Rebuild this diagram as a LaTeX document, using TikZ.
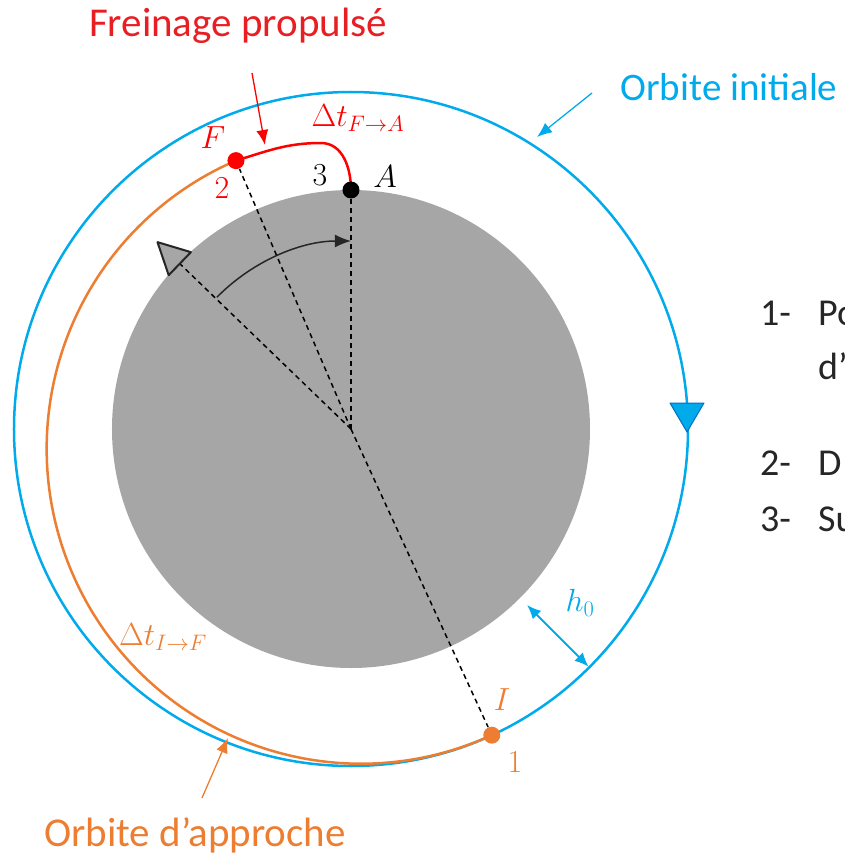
\RequirePackage{fix-cm}
\documentclass[tikz,border=0pt]{standalone}
\usepackage[no-math]{fontspec}
\setmainfont{Carlito}
\usetikzlibrary{arrows.meta,calc}
\definecolor{cblue}{RGB}{0,170,235}
\definecolor{cbluedark}{RGB}{0,112,192}
\definecolor{corange}{RGB}{237,125,49}
\definecolor{cred}{RGB}{255,0,0}
\definecolor{credtxt}{RGB}{232,30,35}
\definecolor{cgray}{RGB}{166,166,166}
\definecolor{cdark}{RGB}{38,38,38}
\begin{document}
\begin{tikzpicture}[x=1pt,y=1pt,
  lbl/.style={font=\fontsize{38}{44}\selectfont, inner sep=0pt},
  biglbl/.style={font=\fontsize{41}{48}\selectfont, inner sep=0pt},
  mlbl/.style={font=\fontsize{32}{38}\selectfont, inner sep=0pt},
  dashln/.style={draw=black, line width=1.5pt, dash pattern=on 5pt off 4pt},
  tip/.style={-{Latex[length=15pt,width=12pt]}},
  dot/.style={circle, inner sep=0pt, minimum size=17pt}]
\useasboundingbox (-351,-426) rectangle (494,429);
\clip (-351,-426) rectangle (494,429);

\coordinate (O) at (0,0);
\coordinate (I) at (-65.3:337);
\coordinate (F) at (113.2:292);
\coordinate (A) at (0,239);
\coordinate (T) at (136:238);

% planet
\fill[cgray] (O) circle (239);

% dashed radial lines
\draw[dashln] (O) -- (T);
\draw[dashln] (O) -- (A);
\draw[dashln, shorten >=9pt] (O) -- (F);
\draw[dashln, shorten >=9pt] (O) -- (I);

% rotation arc
\draw[cdark, line width=1.5pt, -{Latex[length=16pt,width=13pt]}] (135.5:188) arc[start angle=135.5, end angle=90, radius=188];

% target marker
\filldraw[fill=cgray, draw=cdark, line width=2pt, line join=round]
  (136:269) -- ($(T)+(46:16)$) -- ($(T)+(226:16)$) -- cycle;

% initial orbit
\draw[cblue, line width=2.5pt] (O) circle (337);
\filldraw[fill=cblue, draw=cbluedark, line width=1pt, line join=round] (319,26) -- (353,26) -- (336,-3) -- cycle;

% approach orbit
\draw[corange, line width=2.5pt] plot[domain=-65.3:-246.8, samples=140, smooth]
  ({312.9/(1+0.0715*cos(\x+245))*cos(\x)}, {312.9/(1+0.0715*cos(\x+245))*sin(\x)});

% braking arc
\draw[cred, line width=2.5pt] (F) to[out=17, in=180] (-30,286) to[out=0, in=90] (A);

% points
\node[dot, fill=cred] (Fd) at (F) {};
\node[dot, fill=black] (Ad) at (A) {};
\node[dot, fill=corange] (Id) at (I) {};

% h0
\coordinate (h1) at (-45:249);
\coordinate (h2) at (-45:336);
\draw[cblue, line width=2pt, {Latex[length=14pt,width=12pt]}-{Latex[length=14pt,width=12pt]}] (h1) -- (h2);
\node[mlbl, text=cblue] (h0) at (229,-174) {$h_0$};

% point labels
\node[mlbl, text=cred] (Fl) at (-138,291) {$F$};
\node[mlbl, text=cred] (n2) at (-129,241) {$2$};
\node[mlbl, text=black] (n3) at (-31,254) {$3$};
\node[mlbl, text=black] (Al) at (34,252) {$A$};
\node[mlbl, text=cred] (dtFA) at (7,311) {$\Delta t_{F\rightarrow A}$};
\node[mlbl, text=corange] (Il) at (151,-271) {$I$};
\node[mlbl, text=corange] (n1) at (164,-333) {$1$};
\node[mlbl, text=corange] (dtIF) at (-188,-208) {$\Delta t_{I\rightarrow F}$};

% callouts
\node[biglbl, text=credtxt] (frein) at (-113,403) {Freinage propulsé};
\coordinate (fr1) at (-99,356);
\coordinate (fr2) at (-86,284);
\draw[cred, line width=1.3pt, tip] (fr1) -- (fr2);

\node[lbl, font=\fontsize{39}{45}\selectfont, text=cblue] (oinit) at (378,342) {Orbite initiale};
\coordinate (oi1) at (241,336);
\coordinate (oi2) at (186,292);
\draw[cblue, line width=1.3pt, tip] (oi1) -- (oi2);

\node[biglbl, text=corange] (oapp) at (-156,-406) {Orbite d’approche};
\coordinate (oa1) at (-149,-369);
\coordinate (oa2) at (-123,-309);
\draw[corange, line width=1.3pt, tip] (oa1) -- (oa2);

% list on the right (cut by the frame, as in the reference)
\node[lbl, anchor=base west, text=black!85] (l1) at (409,104) {1-};
\node[lbl, anchor=base west, text=black!85] (l1t) at (467,104) {Po};
\node[lbl, anchor=base west, text=black!85] (l1u) at (467,50) {d’};
\node[lbl, anchor=base west, text=black!85] (l2) at (409,-46) {2-};
\node[lbl, anchor=base west, text=black!85] (l2t) at (467,-46) {D};
\node[lbl, anchor=base west, text=black!85] (l3) at (409,-102) {3-};
\node[lbl, anchor=base west, text=black!85] (l3t) at (467,-102) {Su};
\end{tikzpicture}
\end{document}
